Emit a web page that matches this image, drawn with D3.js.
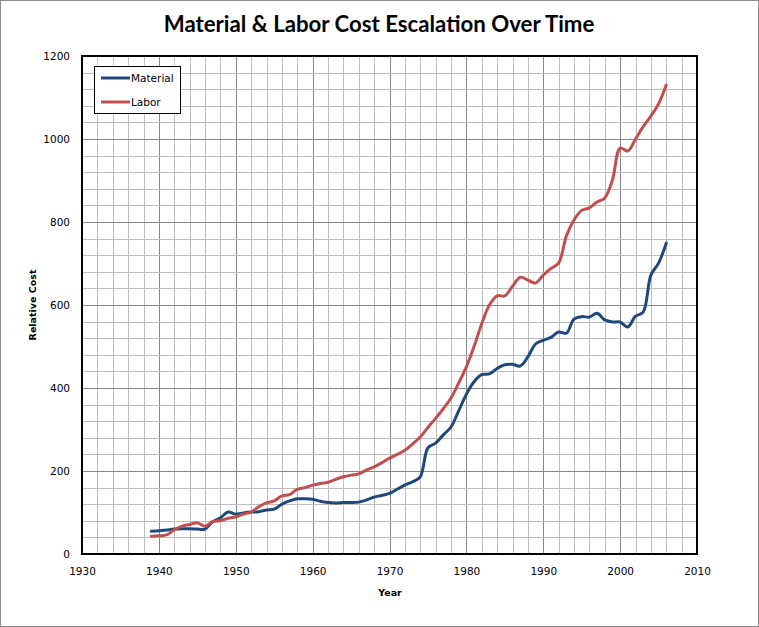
<!DOCTYPE html>
<html>
<head>
<meta charset="utf-8">
<script src="https://cdn.jsdelivr.net/npm/d3@7"></script>
<style>
  body { margin: 0; background: #fff; }
  svg { display: block; }
</style>
</head>
<body>
<svg id="chart" width="759" height="627"></svg>
<script>
(function() {

  // Years on the x axis.
  var years = [];
  for (var y = 1939; y <= 2006; y++) years.push(y);

  // Material cost index, one value per year.
  var material = [
    55, 56, 58, 60, 61, 61, 60, 60, 78, 87,
    101, 96, 99, 101, 102, 106, 108, 120, 128, 133,
    133, 132, 127, 124, 123, 124, 124, 125, 130, 137,
    141, 146, 156, 166, 174, 186, 256, 267, 287, 306,
    345, 385, 415, 432, 434, 447, 456, 457, 453, 475,
    506, 515, 522, 535, 532, 566, 572, 571, 580, 564,
    559, 559, 547, 573, 583, 672, 701, 749
  ];

  // Labor cost index, one value per year.
  var labor = [
    43, 44, 46, 58, 67, 71, 75, 67, 78, 80,
    86, 89, 96, 101, 114, 123, 128, 140, 143, 156,
    160, 166, 170, 173, 180, 186, 190, 193, 202, 210,
    220, 231, 240, 250, 265, 282, 305, 327, 350, 376,
    412, 451, 500, 555, 600, 622, 622, 645, 667, 660,
    653, 672, 688, 701, 766, 805, 828, 834, 848, 858,
    901, 978, 971, 1000, 1030, 1055, 1085, 1130
  ];

  var series = [
    { name: "Material", values: material, colour: "#1f497d" },
    { name: "Labor", values: labor, colour: "#c0504d" }
  ];

  // Tick labels.
  var xTicks = [1930, 1940, 1950, 1960, 1970, 1980, 1990, 2000, 2010];
  var yTicks = [0, 200, 400, 600, 800, 1000, 1200];

  var width = 759, height = 627;
  var plot = { left: 82, top: 56, right: 697, bottom: 554 };

  var svg = d3.select("#chart");

  // Outer frame.
  svg.append("rect")
    .attr("x", 0.5).attr("y", 0.5)
    .attr("width", width - 1).attr("height", height - 1)
    .attr("fill", "#fff").attr("stroke", "#8c8c8c");

  var x = d3.scaleLinear().domain([1930, 2010]).range([plot.left, plot.right]);
  var yScale = d3.scaleLinear().domain([0, 1200]).range([plot.bottom, plot.top]);

  // Minor grid: every 2 years and every 40 units.
  var g = svg.append("g");
  g.selectAll(".vminor")
    .data(d3.range(1930, 2011, 2))
    .enter().append("line")
    .attr("x1", function(d) { return Math.round(x(d)) + 0.5; })
    .attr("x2", function(d) { return Math.round(x(d)) + 0.5; })
    .attr("y1", plot.top).attr("y2", plot.bottom)
    .attr("stroke", function(d) { return d % 10 == 0 ? "#868686" : "#bdbdbd"; })
    .attr("stroke-width", 1);
  g.selectAll(".hminor")
    .data(d3.range(0, 1201, 40))
    .enter().append("line")
    .attr("y1", function(d) { return Math.round(yScale(d)) + 0.5; })
    .attr("y2", function(d) { return Math.round(yScale(d)) + 0.5; })
    .attr("x1", plot.left).attr("x2", plot.right)
    .attr("stroke", function(d) { return d % 200 == 0 ? "#868686" : "#bdbdbd"; })
    .attr("stroke-width", 1);

  // Lines.
  var line = d3.line()
    .x(function(d, i) { return x(years[i]); })
    .y(function(d) { return yScale(d); })
    .curve(d3.curveCatmullRom.alpha(0.5));

  svg.selectAll(".series")
    .data(series)
    .enter().append("path")
    .attr("d", function(d) { return line(d.values); })
    .attr("fill", "none")
    .attr("stroke", function(d) { return d.colour; })
    .attr("stroke-width", 3)
    .attr("stroke-linejoin", "round")
    .attr("stroke-linecap", "round");

  // Plot frame.
  svg.append("rect")
    .attr("x", plot.left).attr("y", plot.top)
    .attr("width", plot.right - plot.left).attr("height", plot.bottom - plot.top)
    .attr("fill", "none").attr("stroke", "#000").attr("stroke-width", 2);

  // Axes.
  var xAxis = svg.append("g")
    .attr("transform", "translate(0," + plot.bottom + ")")
    .call(d3.axisBottom(x).tickValues(xTicks).tickFormat(d3.format("d")).tickSize(0).tickPadding(14));
  var yAxis = svg.append("g")
    .attr("transform", "translate(" + plot.left + ",0)")
    .call(d3.axisLeft(yScale).tickValues(yTicks).tickFormat(d3.format("d")).tickSize(0).tickPadding(12));
  [xAxis, yAxis].forEach(function(a) {
    a.attr("font-family", "'DejaVu Sans', sans-serif").attr("font-size", 10.5);
    a.select(".domain").remove();
    a.selectAll("text").attr("fill", "#000");
  });

  // Title.
  var title = svg.append("text")
    .attr("x", 379).attr("y", 32)
    .attr("text-anchor", "middle")
    .attr("font-family", "Lato, sans-serif")
    .attr("font-weight", "bold")
    .attr("font-size", 22)
    .text("Material & Labor Cost Escalation Over Time");
  var tw = title.node().getComputedTextLength();
  title.attr("font-size", 22 * 431 / tw);

  // Axis titles.
  svg.append("text")
    .attr("x", 390).attr("y", 596)
    .attr("text-anchor", "middle")
    .attr("font-family", "'DejaVu Sans', sans-serif")
    .attr("font-weight", "bold")
    .attr("font-size", 9.5)
    .text("Year");
  svg.append("text")
    .attr("transform", "translate(36,305) rotate(-90)")
    .attr("text-anchor", "middle")
    .attr("font-family", "'DejaVu Sans', sans-serif")
    .attr("font-weight", "bold")
    .attr("font-size", 9.5)
    .text("Relative Cost");

  // Legend.
  var legend = svg.append("g").attr("transform", "translate(94,66)");
  legend.append("rect")
    .attr("x", 0.5).attr("y", 0.5).attr("width", 86).attr("height", 47)
    .attr("fill", "#fff").attr("stroke", "#000");
  var items = legend.selectAll(".item")
    .data(series)
    .enter().append("g")
    .attr("transform", function(d, i) { return "translate(0," + (12 + i * 24) + ")"; });
  items.append("line")
    .attr("x1", 7).attr("x2", 36).attr("y1", 0).attr("y2", 0)
    .attr("stroke", function(d) { return d.colour; })
    .attr("stroke-width", 3);
  items.append("text")
    .attr("x", 37).attr("y", 4)
    .attr("font-family", "'DejaVu Sans', sans-serif")
    .attr("font-size", 10.5)
    .text(function(d) { return d.name; });

})();
</script>
</body>
</html>
